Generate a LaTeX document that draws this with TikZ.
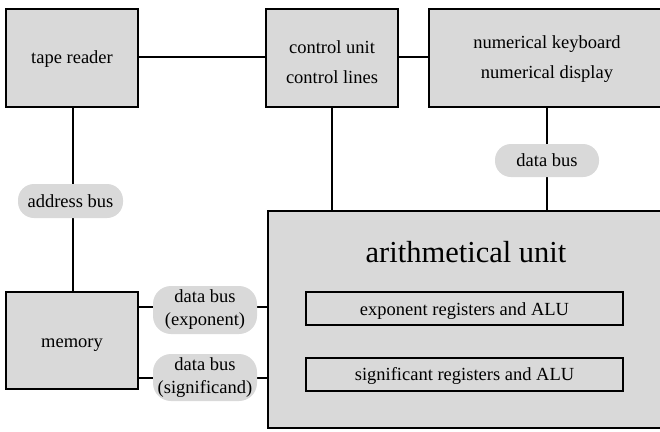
\documentclass[tikz,border=0pt]{standalone}
\usepackage{fontspec}
\setmainfont{Liberation Serif}
\definecolor{boxgray}{HTML}{D9D9D9}
\begin{document}
\begin{tikzpicture}[x=1pt,y=-1pt,
  blk/.style={draw=black, line width=2pt, fill=boxgray},
  pill/.style={fill=boxgray, inner sep=0pt, align=center,
     font=\fontsize{18.5}{23}\selectfont},
  conn/.style={line width=2pt},
  lbl/.style={align=center, font=\fontsize{18.5}{30}\selectfont}]
\useasboundingbox (0,0) rectangle (660,431);
\clip (0,0) rectangle (660,431);
% boxes
\draw[blk] (6,9) rectangle (138,107);
\node[lbl] (tape) at (72,59) {tape reader};
\draw[blk] (266,9) rectangle (398,107);
\node[lbl] (ctrl) at (332,62) {control unit\\control lines};
\draw[blk] (429,9) rectangle (670,107);
\node[lbl] (num) at (547,59) {numerical keyboard\\numerical display};
\draw[blk] (6,292) rectangle (138,389);
\node[lbl] (mem) at (72,345) {memory};
\draw[blk] (268,211) rectangle (670,428);
\node[font=\fontsize{30.5}{36}\selectfont] (au) at (466,252) {arithmetical unit};
\draw[blk] (306,292) rectangle (623,325);
\node[lbl] (exp) at (464.5,311) {exponent registers and ALU};
\draw[blk] (306,358) rectangle (623,391);
\node[lbl] (sig) at (464.5,376) {significant registers and ALU};
% named anchors
\coordinate (tapeR) at (138,57);
\coordinate (ctrlL) at (266,57);
\coordinate (ctrlR) at (398,57);
\coordinate (numL) at (429,57);
\coordinate (tapeB) at (73,107);
\coordinate (memT) at (73,292);
\coordinate (ctrlB) at (332,107);
\coordinate (auT1) at (332,211);
\coordinate (numB) at (547,107);
\coordinate (auT2) at (547,211);
\coordinate (memR1) at (138,307);
\coordinate (auL1) at (268,307);
\coordinate (memR2) at (138,378);
\coordinate (auL2) at (268,378);
% connectors
\draw[conn] (tapeR) -- (ctrlL);
\draw[conn] (ctrlR) -- (numL);
\draw[conn] (tapeB) -- (memT);
\draw[conn] (ctrlB) -- (auT1);
\draw[conn] (numB) -- (auT2);
\draw[conn] (memR1) -- (auL1);
\draw[conn] (memR2) -- (auL2);
% pills
\node[pill, rounded corners=16pt, minimum width=105pt, minimum height=34pt] (addr) at (70.5,201) {address bus};
\node[pill, rounded corners=16pt, minimum width=104pt, minimum height=33pt] (dbus) at (547,160.5) {data bus};
\node[pill, rounded corners=18pt, minimum width=104pt, minimum height=48pt] (dexp) at (205,310) {data bus\\(exponent)};
\node[pill, rounded corners=18pt, minimum width=104pt, minimum height=47pt] (dsig) at (205,377.5) {data bus\\(significand)};
\end{tikzpicture}
\end{document}
